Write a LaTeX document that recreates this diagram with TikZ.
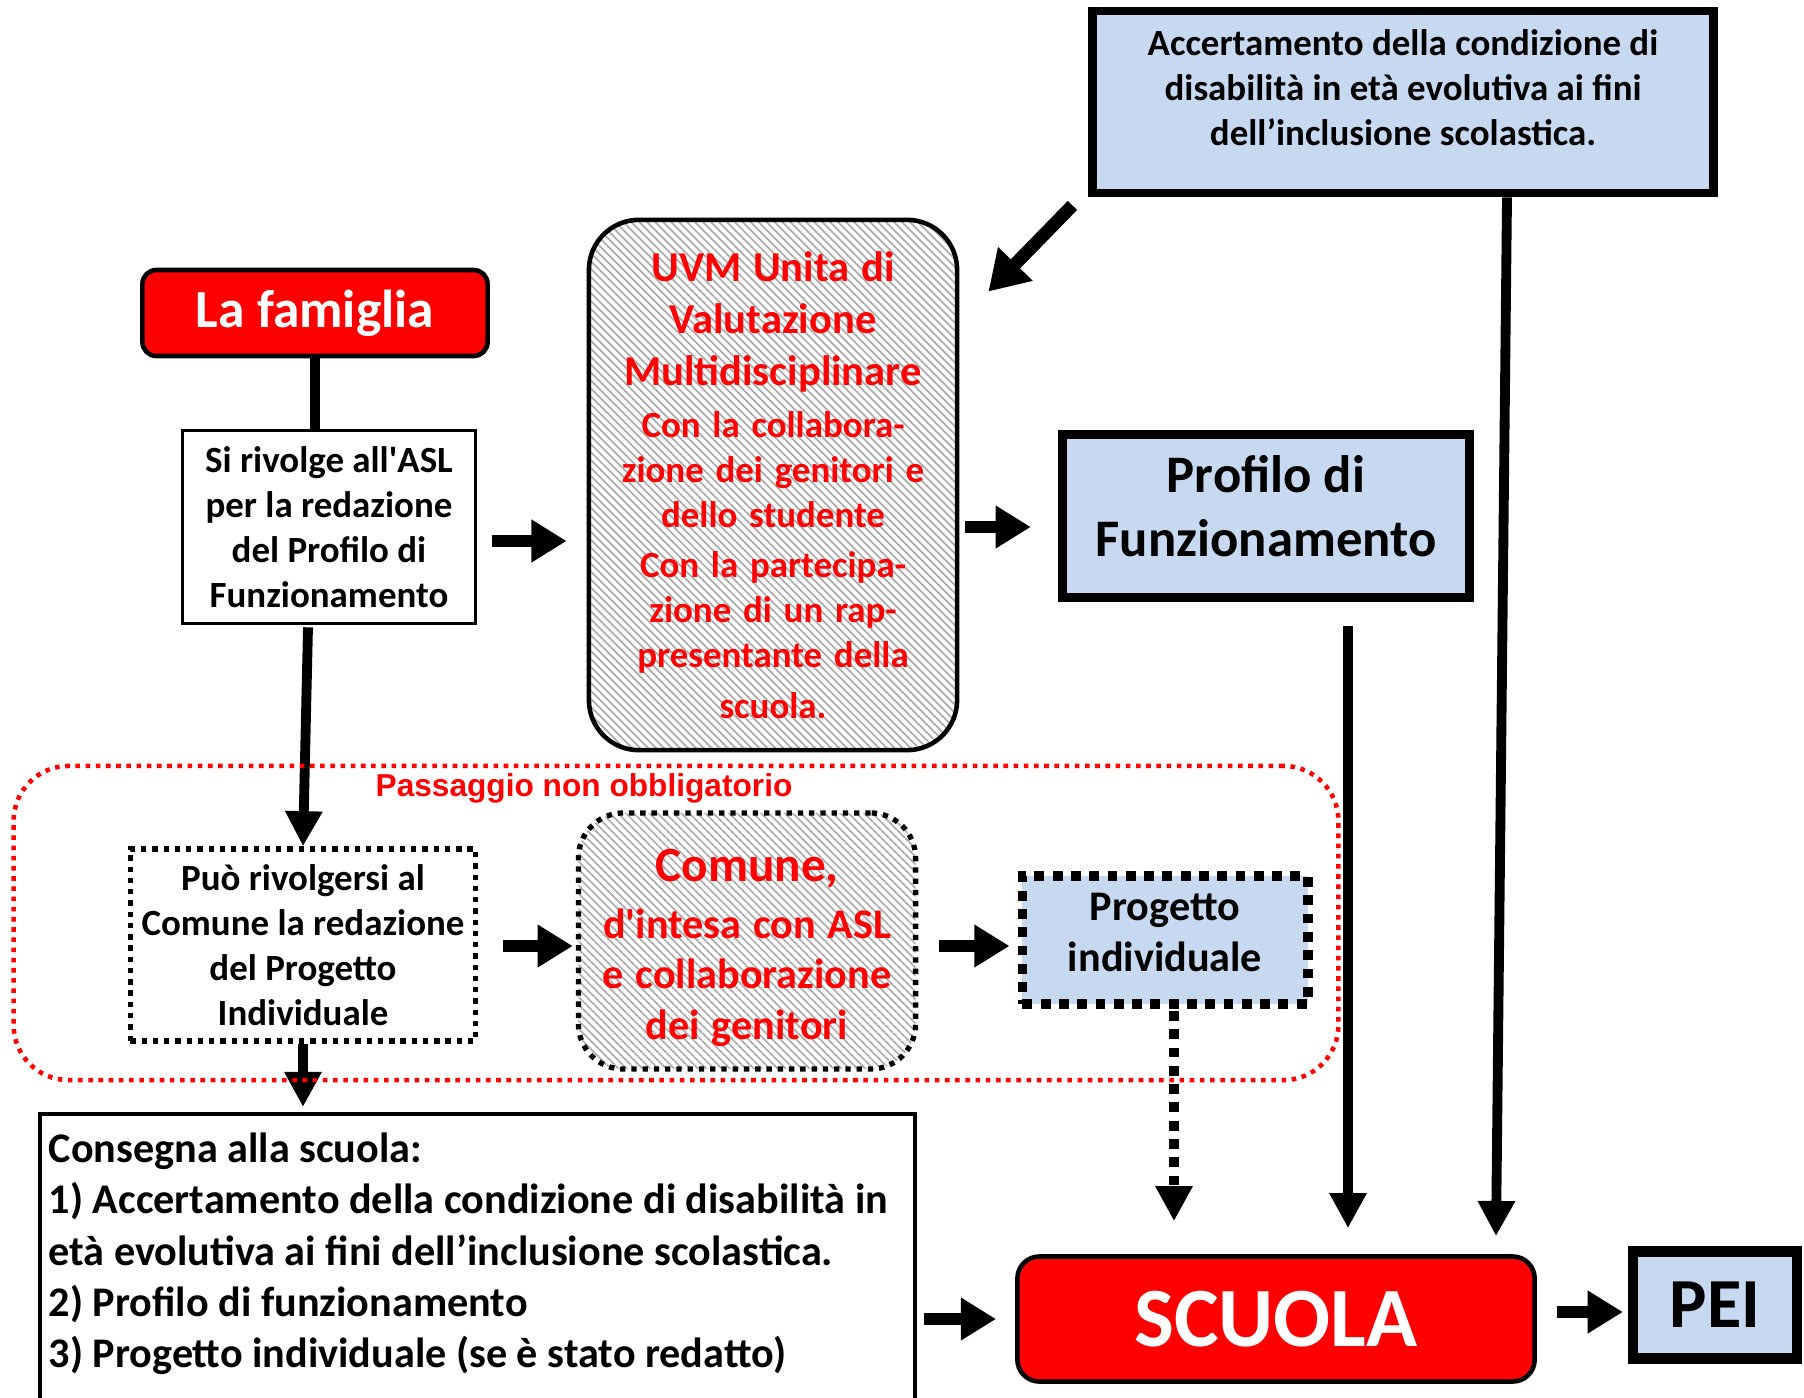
\documentclass[tikz,border=0pt]{standalone}
\usepackage{fontspec}
\setmainfont{Carlito}
\newfontfamily\arialfont{Liberation Sans}
\usetikzlibrary{arrows.meta, patterns.meta, positioning}

\definecolor{azzurro}{HTML}{C6D9F1}
\definecolor{rosso}{HTML}{FF0000}
\newcommand\fsz[2]{\fontsize{#1}{#2}\selectfont\bfseries}

\tikzset{
  casella/.style={draw, align=center, inner sep=2pt},
  azzurra/.style={casella, fill=azzurro},
  rossa/.style={casella, fill=rosso, text=white, line width=1.3pt},
  tratteggio/.style={pattern={Lines[angle=-45, distance=1.6pt, line width=0.5pt]}, pattern color=gray!65},
  puntini/.style={dash pattern=on 1.5pt off 1.7pt},
  freccia/.style={line width=2.8pt, -{Triangle[length=10pt, width=10pt]}},
  frecciona/.style={line width=3.6pt, -{Triangle[length=10pt, width=11.5pt]}},
}

\begin{document}
\begin{tikzpicture}[x=0.01cm, y=-0.01cm]

\useasboundingbox (0,0) rectangle (1804,1397);
\clip (0,0) rectangle (1804,1397);

% caselle in alto
\node[azzurra, line width=2.5pt, minimum width=6.2cm, minimum height=1.82cm, font=\fsz{10.5}{12.8}] (accertamento) at (1403,102)
    {Accertamento della condizione di\\ disabilità in età evolutiva ai fini\\ dell’inclusione scolastica.\\[-4.6pt] ~};

\node[rossa, rounded corners=0.14cm, minimum width=3.45cm, minimum height=0.86cm, font=\fsz{15.2}{18}] (famiglia) at (315,313) {La famiglia};

\node[casella, line width=1pt, minimum width=2.93cm, minimum height=1.93cm, font=\fsz{10.5}{12.8}] (rivolge) at (329,527)
    {Si rivolge all\textquotesingle ASL\\ per la redazione\\ del Profilo di\\ Funzionamento};

\node[casella, tratteggio, line width=1.3pt, rounded corners=0.5cm, text=rosso, text width=3.5cm, minimum width=3.68cm, minimum height=5.3cm] (uvm) at (773,485)
    {{\fsz{12.1}{14.8}UVM Unita di\\ Valutazione\\ Multidisciplinare\par}\vspace{1.9pt}
     {\fsz{10.5}{12.8}Con la collabora-\\ zione dei genitori e\\ dello studente\par}\vspace{1.6pt}
     {\fsz{10.5}{12.8}Con la partecipa-\\ zione di un rap-\\ presentante della\\[1.5pt] scuola.\par}};

\node[azzurra, line width=2.6pt, minimum width=4.07cm, minimum height=1.63cm, font=\fsz{15}{18.3}] (profilo) at (1266,516) {Profilo di\\ Funzionamento\\[-12.6pt] ~};

% passaggio non obbligatorio
\node[casella, puntini, line width=1.5pt, minimum width=3.45cm, minimum height=1.92cm, font=\fsz{10.5}{12.8}] (puo) at (303,945)
    {Può rivolgersi al\\ Comune la redazione\\ del Progetto\\ Individuale};

\node[casella, tratteggio, puntini, line width=1.5pt, rounded corners=0.45cm, text=rosso, text width=3.15cm, minimum width=3.37cm, minimum height=2.56cm] (comune) at (747,941)
    {{\fsz{12}{14.4}{\fontsize{14}{16}\selectfont Comune,}\\[1.6pt] d\textquotesingle intesa con ASL\\ e collaborazione\\ dei genitori\par}\vspace{-4pt}};

\node[azzurra, line width=2.8pt, dash pattern=on 2.8pt off 2.4pt, minimum width=2.85cm, minimum height=1.28cm, font=\fsz{12}{14.4}] (progetto) at (1165,940) {Progetto\\ individuale\\[-10pt] ~};

% in basso
\node[anchor=north west, align=left, inner sep=0pt, font=\fsz{12}{14.6}] (consegna) at (48,1132)
    {Consegna alla scuola:\\ 1) Accertamento della condizione di disabilità in\\ età evolutiva ai fini dell’inclusione scolastica.\\ 2) Profilo di funzionamento\\ 3) Progetto individuale (se è stato redatto)};
\coordinate (cornice) at ([shift={(867,-18)}]consegna.north west);
\draw[line width=1pt] ([shift={(-8,400)}]consegna.north west) -- ([shift={(-8,-18)}]consegna.north west) -- (cornice) -- ++(0,400);

\node[rossa, rounded corners=0.22cm, minimum width=5.17cm, minimum height=1.25cm, font=\fsz{24}{28}] (scuola) at (1276,1319) {SCUOLA};
\node[azzurra, line width=2.9pt, minimum width=1.64cm, minimum height=1.07cm, font=\fsz{20}{24}] (pei) at (1715,1305) {PEI};

% collegamenti
\draw[line width=2.8pt] (famiglia.south) -- (famiglia.south |- rivolge.north);
\draw[frecciona] ([shift={(15,14)}]rivolge.east) -- ([shift={(-20,14)}]rivolge.east -| uvm.west);
\draw[frecciona] ([shift={(6,11)}]uvm.east |- profilo.west) -- ([shift={(-27,11)}]profilo.west);
\draw[line width=3.7pt, -{Triangle[length=11pt, width=13pt]}] ([shift={(-16,8)}]accertamento.south west) -- ([shift={(29,74)}]uvm.north east);
\draw[freccia] ([shift={(-21,2)}]rivolge.south) -- (puo.north);
\draw[frecciona] ([shift={(25,1)}]puo.east) -- ([shift={(-3,1)}]puo.east -| comune.west);
\draw[frecciona] ([shift={(21,5)}]comune.east) -- ([shift={(-8,5)}]comune.east -| progetto.west);
\draw[freccia, dash pattern=on 2.8pt off 2.4pt] ([shift={(9,2)}]progetto.south) -- ([shift={(9,-33)}]progetto.south |- scuola.north);
\draw[freccia] ([shift={(82,24)}]profilo.south) -- ([shift={(82,-26)}]profilo.south |- scuola.north);
\draw[freccia] ([shift={(104,0)}]accertamento.south) -- ([shift={(220,-18)}]scuola.north);
\draw[freccia] (puo.south) -- ([shift={(0,-25)}]puo.south |- consegna.north);
\draw[frecciona] ([shift={(9,0)}]cornice |- scuola.west) -- ([shift={(-19,0)}]scuola.west);
\draw[frecciona] ([shift={(20,-7)}]scuola.east) -- ([shift={(-5,-7)}]scuola.east -| pei.west);

\node[draw=rosso, line width=1.3pt, dash pattern=on 1.3pt off 1.6pt, rounded corners=0.55cm, minimum width=13.24cm, minimum height=3.14cm] (facoltativo) at (676,923) {};
\node[text=rosso, font=\arialfont\fontsize{9}{11}\selectfont\bfseries] (avviso) at (584,788) {Passaggio non obbligatorio};

\end{tikzpicture}
\end{document}
